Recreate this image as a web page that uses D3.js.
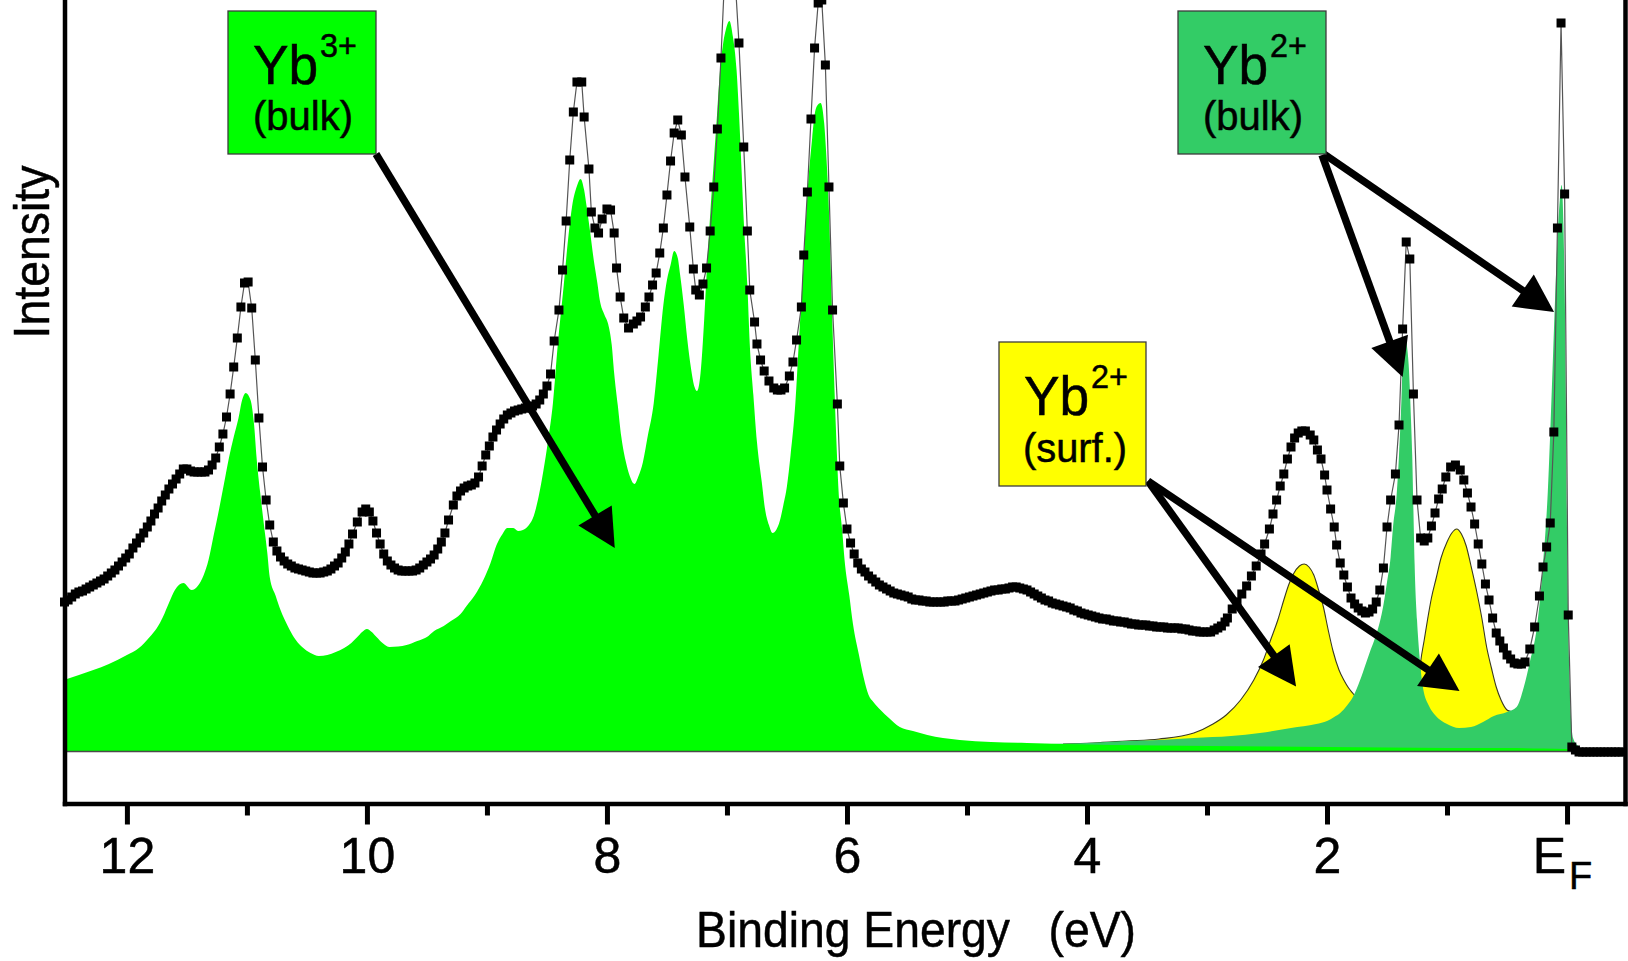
<!DOCTYPE html>
<html><head><meta charset="utf-8">
<script src="https://cdn.jsdelivr.net/npm/d3@7"></script>
<style>
html,body{margin:0;padding:0;background:#fff;}
svg{display:block;}
text{font-family:"Liberation Sans",Arial,Helvetica,sans-serif;fill:#000;stroke:#000;stroke-width:0.5px;}
</style></head><body>
<svg id="chart" width="1628" height="961"></svg>
<script>
// ---- measured spectrum: [binding energy (eV), intensity (arb. units)]
const spectrum = [
[12.52,149],[12.49,151],[12.46,154],[12.43,157],[12.40,159],[12.37,160],[12.34,162],[12.31,164],[12.28,166],[12.25,168],
[12.22,170],[12.19,172],[12.16,175],[12.13,178],[12.10,181],[12.07,185],[12.04,189],[12.01,193],[11.98,197],[11.95,203],
[11.92,208],[11.89,213],[11.86,218],[11.83,224],[11.80,230],[11.77,237],[11.74,243],[11.71,250],[11.68,256],[11.65,262],
[11.62,267],[11.59,272],[11.56,277],[11.53,282],[11.50,282],[11.47,280],[11.44,279],[11.41,279],[11.38,279],[11.35,279],
[11.32,281],[11.29,286],[11.26,293],[11.23,304],[11.20,317],[11.17,334],[11.14,357],[11.11,384],[11.08,413],[11.05,444],
[11.02,468],[10.99,469],[10.96,443],[10.93,391],[10.90,333],[10.87,284],[10.84,251],[10.81,226],[10.78,209],[10.75,200],
[10.72,194],[10.69,190],[10.66,187],[10.63,185],[10.60,183],[10.57,182],[10.54,181],[10.51,180],[10.48,179],[10.45,178],
[10.42,178],[10.39,178],[10.36,179],[10.33,180],[10.30,182],[10.27,185],[10.24,188],[10.21,193],[10.18,199],[10.15,207],
[10.12,217],[10.08,229],[10.04,239],[10.01,242],[9.98,239],[9.95,230],[9.92,218],[9.89,207],[9.86,197],[9.83,190],
[9.80,186],[9.77,183],[9.74,181],[9.71,180],[9.68,180],[9.65,180],[9.62,180],[9.59,181],[9.56,183],[9.53,186],
[9.50,189],[9.47,192],[9.44,196],[9.41,202],[9.38,209],[9.35,218],[9.32,231],[9.28,246],[9.25,255],[9.22,260],
[9.19,263],[9.16,265],[9.13,266],[9.10,268],[9.07,274],[9.04,285],[9.01,296],[8.98,305],[8.95,314],[8.92,321],
[8.89,327],[8.86,332],[8.83,336],[8.80,338],[8.77,340],[8.74,341],[8.71,342],[8.68,343],[8.65,343],[8.62,345],
[8.59,347],[8.56,351],[8.53,357],[8.50,365],[8.47,377],[8.44,410],[8.40,441],[8.37,481],[8.34,530],[8.31,591],
[8.28,639],[8.25,669],[8.21,669],[8.19,634],[8.15,582],[8.13,539],[8.10,523],[8.07,518],[8.04,532],[8.00,542],
[7.97,541],[7.94,518],[7.92,483],[7.89,454],[7.86,433],[7.82,423],[7.78,427],[7.75,430],[7.72,434],[7.68,444],
[7.65,454],[7.62,466],[7.59,478],[7.56,498],[7.53,523],[7.50,556],[7.47,590],[7.44,618],[7.41,631],[7.38,616],
[7.35,574],[7.31,524],[7.28,482],[7.26,461],[7.23,456],[7.20,467],[7.17,483],[7.14,520],[7.11,564],[7.08,622],
[7.05,693],[7.02,773],[6.99,796],[6.96,791],[6.93,768],[6.90,708],[6.86,604],[6.83,520],[6.81,461],[6.77,429],
[6.75,407],[6.72,391],[6.69,380],[6.65,370],[6.61,363],[6.58,361],[6.55,361],[6.52,363],[6.48,375],[6.45,389],
[6.42,411],[6.38,444],[6.36,496],[6.33,559],[6.30,632],[6.27,703],[6.24,748],[6.21,751],[6.18,686],[6.15,564],
[6.12,441],[6.08,347],[6.06,285],[6.03,248],[6.00,222],[5.97,208],[5.94,197],[5.91,188],[5.88,182],[5.85,179],
[5.82,175],[5.79,172],[5.76,169],[5.73,166],[5.70,164],[5.67,162],[5.64,160],[5.61,158],[5.58,157],[5.55,156],
[5.52,155],[5.49,154],[5.46,152],[5.43,151],[5.40,151],[5.37,150],[5.34,150],[5.31,149],[5.28,149],[5.25,149],
[5.22,149],[5.19,149],[5.16,150],[5.13,150],[5.10,150],[5.07,151],[5.04,152],[5.01,153],[4.98,154],[4.95,155],
[4.92,156],[4.89,157],[4.86,158],[4.83,159],[4.80,160],[4.77,161],[4.74,161],[4.71,162],[4.68,162],[4.65,163],
[4.62,164],[4.59,164],[4.56,163],[4.53,162],[4.50,161],[4.47,159],[4.44,157],[4.41,155],[4.38,153],[4.35,151],
[4.32,150],[4.29,148],[4.26,147],[4.23,146],[4.20,145],[4.17,144],[4.14,143],[4.11,141],[4.08,140],[4.05,138],
[4.02,137],[3.99,136],[3.96,135],[3.93,134],[3.90,133],[3.87,132],[3.84,132],[3.81,131],[3.78,130],[3.75,130],
[3.72,129],[3.69,129],[3.66,128],[3.63,127],[3.60,127],[3.57,126],[3.54,126],[3.51,126],[3.48,125],[3.45,125],
[3.42,124],[3.39,124],[3.36,124],[3.33,123],[3.30,123],[3.27,123],[3.24,123],[3.21,122],[3.18,122],[3.15,121],
[3.12,120],[3.09,120],[3.06,119],[3.03,119],[3.00,119],[2.97,119],[2.94,121],[2.91,123],[2.88,125],[2.85,129],
[2.83,133],[2.79,142],[2.75,149],[2.71,157],[2.67,165],[2.63,175],[2.59,185],[2.55,197],[2.52,207],[2.48,222],
[2.45,237],[2.42,251],[2.39,265],[2.36,277],[2.33,292],[2.30,304],[2.27,313],[2.24,318],[2.21,320],[2.18,320],
[2.14,316],[2.11,311],[2.08,301],[2.05,292],[2.02,276],[2.00,261],[1.97,242],[1.94,224],[1.92,206],[1.89,188],
[1.86,176],[1.83,164],[1.80,153],[1.77,147],[1.74,143],[1.71,140],[1.68,138],[1.65,139],[1.62,142],[1.59,149],
[1.56,161],[1.53,183],[1.50,224],[1.47,251],[1.43,277],[1.40,326],[1.37,422],[1.34,509],[1.31,492],[1.28,357],
[1.25,251],[1.22,213],[1.19,210],[1.16,213],[1.13,225],[1.10,238],[1.07,252],[1.04,262],[1.01,274],[0.97,284],
[0.93,286],[0.89,281],[0.86,271],[0.83,258],[0.80,244],[0.77,227],[0.74,207],[0.71,187],[0.68,167],[0.65,151],
[0.62,133],[0.59,118],[0.56,110],[0.53,103],[0.50,96],[0.47,92],[0.44,88],[0.41,87],[0.38,87],[0.35,89],
[0.31,102],[0.27,124],[0.23,155],[0.20,184],[0.17,204],[0.14,228],[0.11,319],[0.08,523],[0.05,728],[0.02,557],
[-0.01,136],[-0.04,4],[-0.07,1],[-0.10,-1],[-0.13,-1],[-0.16,-1],[-0.19,-1],[-0.22,-1],[-0.25,-1],[-0.28,-1],
[-0.31,-1],[-0.34,-1],[-0.37,-1],[-0.40,-1],[-0.43,-1],[-0.46,-1]
];

// ---- fitted Yb3+ (bulk) multiplet
const yb3Bulk = [
[12.50,72],[12.40,76],[12.28,81],[12.15,87],[12.00,96],[11.90,103],[11.81,114],[11.75,123],[11.70,134],[11.65,148],
[11.60,161],[11.53,168],[11.46,161],[11.41,165],[11.36,176],[11.32,191],[11.28,214],[11.23,243],[11.19,268],[11.15,293],
[11.11,314],[11.07,333],[11.04,351],[11.01,358],[10.97,351],[10.94,326],[10.92,294],[10.89,259],[10.86,228],[10.83,198],
[10.81,174],[10.76,155],[10.72,141],[10.66,125],[10.61,114],[10.54,104],[10.47,98],[10.40,95],[10.33,96],[10.26,99],
[10.19,103],[10.13,108],[10.08,114],[10.04,119],[10.00,122],[9.96,119],[9.92,114],[9.87,108],[9.81,104],[9.74,104.5],
[9.67,106],[9.58,110],[9.50,114],[9.44,120],[9.36,125],[9.30,130],[9.22,137],[9.17,145],[9.10,156],[9.03,171],
[8.97,188],[8.92,206],[8.87,217],[8.83,223],[8.78,223],[8.74,220],[8.70,221],[8.65,226],[8.61,235],[8.57,254],
[8.53,280],[8.49,311],[8.45,348],[8.41,406],[8.36,466],[8.32,516],[8.29,545],[8.25,565],[8.22,572],[8.19,561],
[8.17,545],[8.14,519],[8.11,491],[8.08,468],[8.06,451],[8.02,436],[7.99,427],[7.96,406],[7.94,378],[7.91,346],
[7.88,314],[7.84,288],[7.81,275],[7.77,267],[7.74,274],[7.70,289],[7.66,315],[7.61,348],[7.57,396],[7.53,446],
[7.50,471],[7.47,486],[7.44,500],[7.41,493],[7.39,476],[7.36,446],[7.33,411],[7.30,383],[7.27,364],[7.25,360],
[7.22,378],[7.19,431],[7.17,476],[7.14,536],[7.11,589],[7.08,641],[7.06,677],[7.03,709],[7.01,721],[6.98,730],
[6.95,714],[6.92,681],[6.90,638],[6.88,586],[6.86,530],[6.83,466],[6.81,407],[6.78,356],[6.75,309],[6.71,269],
[6.68,240],[6.65,226],[6.62,218],[6.59,221],[6.56,230],[6.53,246],[6.50,265],[6.47,296],[6.43,348],[6.40,411],
[6.36,491],[6.33,556],[6.29,613],[6.27,636],[6.25,645],[6.22,648],[6.19,628],[6.17,591],[6.15,540],[6.13,461],
[6.11,383],[6.09,316],[6.07,260],[6.04,221],[6.02,191],[5.98,155],[5.95,127],[5.90,96],[5.86,73],[5.82,56],
[5.78,49],[5.72,41],[5.65,33],[5.56,24],[5.45,20],[5.33,16],[5.20,13],[5.06,11],[4.80,9],[4.50,8],
[4.20,7],[3.80,6],[3.40,5.5],[3.00,5],[2.50,4.5],[2.00,4],[1.50,3.5],[1.00,3],[0.50,3],[0.20,2.5],
[0.00,2],[-0.04,0],[-0.48,0]
];

// ---- Yb3+ + Yb2+ (bulk), cumulative
const yb2BulkSum = [
[4.30,7],[4.00,8],[3.67,10],[3.40,11],[3.11,13],[2.80,15],[2.56,18],[2.30,23],[2.09,27],[2.00,30],
[1.94,34],[1.89,38],[1.83,46],[1.78,55],[1.75,63],[1.70,79],[1.64,100],[1.60,113],[1.56,129],[1.53,146],
[1.50,169],[1.47,194],[1.45,224],[1.42,256],[1.40,296],[1.38,351],[1.37,387],[1.355,411],[1.345,415],[1.33,401],
[1.32,387],[1.30,331],[1.29,296],[1.28,241],[1.27,187],[1.25,131],[1.23,96],[1.20,63],[1.15,45],[1.10,36],
[1.00,27],[0.90,23],[0.80,24],[0.70,29],[0.61,35],[0.50,39],[0.42,44],[0.36,64],[0.31,89],[0.25,125],
[0.20,187],[0.16,260],[0.13,351],[0.10,451],[0.08,511],[0.06,551],[0.045,566],[0.03,526],[0.015,421],[0.00,221],
[-0.02,78],[-0.05,13],[-0.10,4],[-0.15,1],[-0.20,0],[-0.48,0]
];

// ---- total fit including Yb2+ (surface)
const fitTotal = [
[4.20,7],[3.95,8],[3.67,10],[3.40,12],[3.11,18],[2.95,27],[2.84,36],[2.72,51],[2.61,71],[2.53,91],
[2.47,111],[2.41,131],[2.36,151],[2.32,166],[2.28,177],[2.23,185],[2.19,187],[2.15,184],[2.11,176],[2.07,161],
[2.03,144],[1.99,121],[1.95,100],[1.90,81],[1.86,71],[1.82,63],[1.78,57],[1.74,51],[1.60,39],[1.45,36],
[1.35,35],[1.27,41],[1.25,51],[1.22,89],[1.19,111],[1.16,133],[1.13,153],[1.09,173],[1.05,193],[1.00,209],
[0.96,218],[0.92,222],[0.88,217],[0.84,205],[0.80,185],[0.75,158],[0.71,133],[0.67,104],[0.63,83],[0.59,64],
[0.55,51],[0.50,41],[0.46,39],[0.40,31],[0.30,11],[0.20,3],[0.00,2],[-0.04,0],[-0.48,0]
];

const majorTicks = [12, 10, 8, 6, 4, 2, 0];
const minorTicks = [11, 9, 7, 5, 3, 1];
const tickLabels = ["12", "10", "8", "6", "4", "2", "EF"];

// annotation labels and arrow targets [E, intensity]
const labelMain = ["Yb", "Yb", "Yb"];
const labelSup = ["3+", "2+", "2+"];
const labelSub = ["(bulk)", "(bulk)", "(surf.)"];
const arrowTargets = [[7.935, 203], [1.370, 374], [0.108, 439], [2.258, 64.5], [0.896, 60]];

// ---------------- drawing ----------------
const svg = d3.select("#chart");
svg.append("rect").attr("width", 1628).attr("height", 961).attr("fill", "#fff");

const x = d3.scaleLinear().domain([12.52, -0.483]).range([64.5, 1625]);
const y = d3.scaleLinear().domain([-52.5, 751]).range([803.5, 0]);

const area = d3.area().x(d => x(d[0])).y0(y(0)).y1(d => y(d[1])).curve(d3.curveMonotoneX);
const topLine = d3.line().x(d => x(d[0])).y(d => y(d[1])).curve(d3.curveMonotoneX);

svg.append("path").datum(fitTotal).attr("d", area).attr("fill", "#ffff00");
svg.append("path").datum(fitTotal).attr("d", topLine).attr("fill", "none")
  .attr("stroke", "#3a3a20").attr("stroke-width", 1.1);
svg.append("path").datum(yb2BulkSum).attr("d", area).attr("fill", "#33cc66");
svg.append("path").datum(yb3Bulk).attr("d", area).attr("fill", "#00ff00");

// baseline
svg.append("line").attr("x1", x(12.52)).attr("x2", x(-0.483))
  .attr("y1", y(0) + 0.5).attr("y2", y(0) + 0.5)
  .attr("stroke", "#4a4a4a").attr("stroke-width", 1.4);

// measured spectrum
svg.append("path").datum(spectrum)
  .attr("d", d3.line().x(d => x(d[0])).y(d => y(d[1])))
  .attr("fill", "none").attr("stroke", "#555").attr("stroke-width", 1.2);
svg.append("g").selectAll("rect").data(spectrum).join("rect")
  .attr("x", d => x(d[0]) - 4.5).attr("y", d => y(d[1]) - 4.5)
  .attr("width", 9).attr("height", 9).attr("fill", "#000");

// annotation boxes (layout)
const boxes = [
  {x: 228, y: 11, w: 148, h: 143, fill: "#00ff00"},
  {x: 1178, y: 11, w: 148, h: 143, fill: "#33cc66"},
  {x: 999, y: 342, w: 147, h: 144, fill: "#ffff00"}
];
const arrowStarts = [[376, 154], [1322, 155], [1324, 154], [1148, 481], [1148, 481]];

// arrows
const gA = svg.append("g");
arrowTargets.forEach((t, i) => {
  const [sx, sy] = arrowStarts[i];
  const tx = x(t[0]), ty = y(t[1]);
  const dx = tx - sx, dy = ty - sy, len = Math.hypot(dx, dy);
  const ux = dx / len, uy = dy / len, nx = -uy, ny = ux;
  const L = 38, W = 19.5;
  const bx = tx - L * ux, by = ty - L * uy;
  gA.append("line").attr("x1", sx).attr("y1", sy).attr("x2", bx + 4 * ux).attr("y2", by + 4 * uy)
    .attr("stroke", "#000").attr("stroke-width", 7.5);
  gA.append("path").attr("d", `M${tx},${ty}L${bx + W * nx},${by + W * ny}L${bx - W * nx},${by - W * ny}Z`)
    .attr("fill", "#000");
});

// boxes with labels
boxes.forEach((b, i) => {
  const g = svg.append("g").attr("transform", `translate(${b.x},${b.y})`);
  g.append("rect").attr("width", b.w).attr("height", b.h).attr("fill", b.fill)
    .attr("stroke", "#3c3c3c").attr("stroke-width", 1.3);
  const t = g.append("text").attr("x", 25).attr("y", 73).attr("font-size", 56)
    .attr("textLength", 104).attr("lengthAdjust", "spacingAndGlyphs");
  t.append("tspan").text(labelMain[i]);
  t.append("tspan").attr("font-size", 34).attr("dy", -27).attr("dx", 2).text(labelSup[i]);
  const isSurf = labelSub[i] === "(surf.)";
  g.append("text").attr("x", isSurf ? 24 : 25).attr("y", isSurf ? 120 : 119).attr("font-size", 41)
    .attr("textLength", isSurf ? 104 : 100).attr("lengthAdjust", "spacingAndGlyphs").text(labelSub[i]);
});

// axes
const gx = svg.append("g").attr("transform", "translate(0,803.5)")
  .call(d3.axisBottom(x).tickValues(majorTicks).tickSize(21).tickSizeOuter(0)
    .tickFormat((d, i) => tickLabels[i]));
const gm = svg.append("g").attr("transform", "translate(0,803.5)")
  .call(d3.axisBottom(x).tickValues(minorTicks).tickSize(12).tickSizeOuter(0).tickFormat(""));
gm.select(".domain").remove();
const gl = svg.append("g").attr("transform", "translate(64.5,0)")
  .call(d3.axisLeft(y).tickValues([]).tickSizeOuter(0));
const gr = svg.append("g").attr("transform", "translate(1625,0)")
  .call(d3.axisRight(y).tickValues([]).tickSizeOuter(0));

[gx, gl, gr].forEach(g => g.select(".domain").attr("stroke", "#000")
  .attr("stroke-width", 4.5).attr("stroke-linecap", "square"));
[gx, gm].forEach(g => g.selectAll(".tick line").attr("stroke", "#000").attr("stroke-width", 5));

gx.attr("font-size", 50).attr("font-family", "'Liberation Sans', Arial, sans-serif");
gx.selectAll(".tick text").attr("y", 69).attr("dy", null).attr("fill", "#000");
gx.selectAll(".tick text").filter(d => d === 0).each(function () {
  const t = d3.select(this);
  t.text(null).attr("x", -5);
  t.append("tspan").attr("fill", "#000").text("E");
  t.append("tspan").attr("fill", "#000").attr("font-size", 38).attr("dy", 16).attr("dx", 3).text("F");
});

// axis titles
svg.append("text").attr("x", 916).attr("y", 947).attr("text-anchor", "middle")
  .attr("font-size", 50).attr("textLength", 440).attr("lengthAdjust", "spacingAndGlyphs")
  .style("white-space", "pre").text("Binding Energy   (eV)");
svg.append("text").attr("transform", "translate(48.5,252) rotate(-90)")
  .attr("text-anchor", "middle").attr("font-size", 50)
  .attr("textLength", 173).attr("lengthAdjust", "spacingAndGlyphs").text("Intensity");
</script>
</body></html>
